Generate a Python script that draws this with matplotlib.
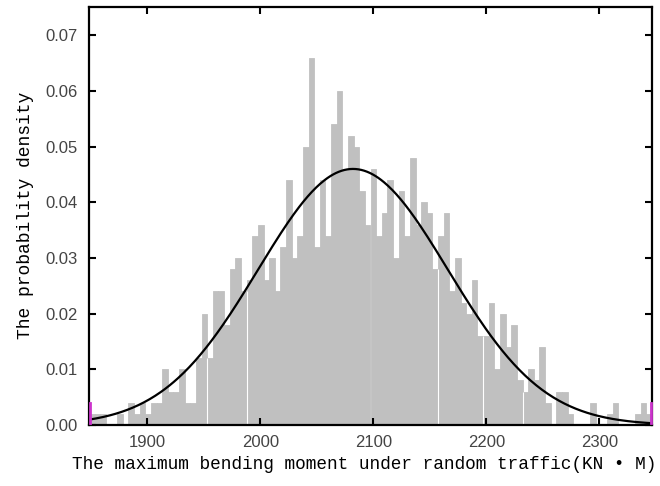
import numpy as np
import matplotlib
matplotlib.use("Agg")
import matplotlib.pyplot as plt

# histogram of max bending moment (100 equal bins between x_min and x_max)
x_min = 1848.4
x_max = 2346.6
heights = [
    0.002, 0.002, 0.002, 0.000, 0.000, 0.002, 0.000, 0.004, 0.002, 0.004,
    0.002, 0.004, 0.004, 0.010, 0.006, 0.006, 0.010, 0.004, 0.004, 0.012,
    0.020, 0.012, 0.024, 0.024, 0.018, 0.028, 0.030, 0.024, 0.026, 0.034,
    0.036, 0.026, 0.030, 0.024, 0.032, 0.044, 0.030, 0.034, 0.050, 0.066,
    0.032, 0.044, 0.034, 0.054, 0.060, 0.046, 0.052, 0.050, 0.042, 0.036,
    0.046, 0.034, 0.038, 0.044, 0.030, 0.042, 0.034, 0.048, 0.036, 0.040,
    0.038, 0.028, 0.034, 0.038, 0.024, 0.030, 0.022, 0.020, 0.026, 0.016,
    0.016, 0.022, 0.010, 0.020, 0.014, 0.018, 0.008, 0.006, 0.010, 0.008,
    0.014, 0.004, 0.000, 0.006, 0.006, 0.002, 0.000, 0.000, 0.000, 0.004,
    0.000, 0.000, 0.002, 0.004, 0.000, 0.000, 0.000, 0.002, 0.004, 0.002,
]
# bin edges where the original shows thin white seams
seam_edges = [21, 28, 62, 70, 77]

# fitted normal curve
fit_mean = 2082.0
fit_std = 84.0
fit_peak = 0.046

x_ticks = [1900, 2000, 2100, 2200, 2300]
y_ticks = [0.00, 0.01, 0.02, 0.03, 0.04, 0.05, 0.06, 0.07]

edges = np.linspace(x_min, x_max, len(heights) + 1)
bin_w = edges[1] - edges[0]

fig = plt.figure(figsize=(6.6, 4.86), dpi=100)
ax = fig.add_axes([89 / 660, 61 / 486, (652 - 89) / 660, (425 - 7.5) / 486])

ax.bar(edges[:-1], heights, width=bin_w, align="edge", color="#c0c0c0",
       edgecolor="#c0c0c0", linewidth=0.6)

for k in seam_edges:
    top = min(heights[k - 1], heights[k])
    ax.vlines(edges[k], 0, top, color="white", lw=0.8, zorder=2)

xs = np.linspace(x_min, x_max, 400)
ys = fit_peak * np.exp(-(xs - fit_mean) ** 2 / (2 * fit_std ** 2))
ax.plot(xs, ys, color="black", lw=1.6, zorder=3)

ax.set_xlim(x_min, x_max)
ax.set_ylim(0, 0.075)

# small magenta marks at both ends of the axis
ax.plot([x_min + 1.2, x_min + 1.2], [0.0003, 0.004], color="#cc33cc", lw=2,
        clip_on=False, zorder=7)
ax.plot([x_max - 1.2, x_max - 1.2], [0.0003, 0.004], color="#cc33cc", lw=2,
        clip_on=False, zorder=7)

ax.set_xticks(x_ticks)
ax.set_yticks(y_ticks)
ax.set_yticklabels(["%.2f" % v for v in y_ticks])

for s in ax.spines.values():
    s.set_linewidth(1.6)
    s.set_zorder(6)
ax.tick_params(direction="in", length=5, width=1.5, top=True, right=True,
               labelsize=12, labelcolor="#444444")
ax.tick_params(axis="x", pad=7)
ax.tick_params(axis="y", pad=8)
for lab in ax.get_xticklabels() + ax.get_yticklabels():
    lab.set_family("Liberation Sans")

fig.text(364 / 660, 1 - 464 / 486,
         "The maximum bending moment under random traffic(KN \u2022 M)",
         ha="center", va="center", family="Liberation Mono", fontsize=12.8)
fig.text(25.5 / 660, 1 - 215 / 486, "The probability density",
         rotation=90, ha="center", va="center", family="Liberation Mono", fontsize=13)

fig.savefig("out.png", dpi=100)
